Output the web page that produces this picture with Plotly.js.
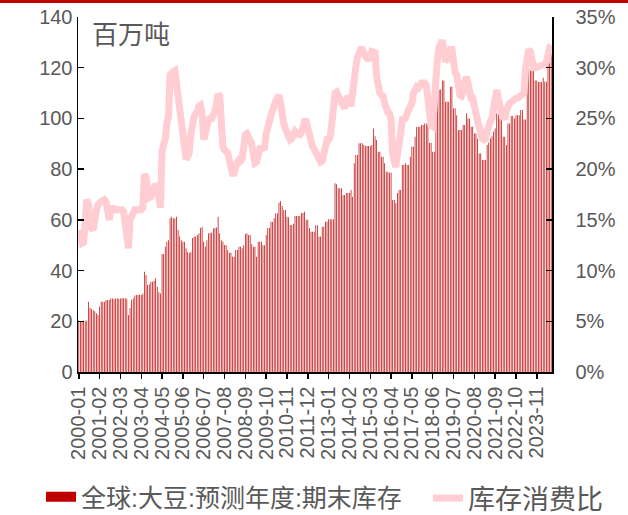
<!DOCTYPE html>
<html><head><meta charset="utf-8">
<script src="https://cdn.plot.ly/plotly-3.0.1.min.js"></script>
<style>html,body{margin:0;padding:0;background:#fff;}#chart{width:628px;height:515px;}</style>
</head><body><div id="chart"></div>
<script>
// ---- data ----
const startYear = 2000;
const monthCount = 296;     // 2000-01 .. 2024-08
const labelStep = 13;       // one axis label every 13 months

// 全球:大豆:预测年度:期末库存 (百万吨), one row per year
const stocksByYear = [
  [20.2,20.1,20.0,20.2,20.0,20.3,27.7,25.2,24.8,24.4,24.0,23.2],
  [22.5,25.8,27.7,27.7,27.7,28.4,28.4,28.4,29.0,29.0,28.7,29.0],
  [29.2,28.8,29.0,29.2,29.0,29.2,28.8,22.5,25.2,28.5,29.0,30.2],
  [30.4,30.4,30.6,30.4,31.0,39.5,38.3,34.3,34.5,35.6,35.6,36.0],
  [37.0,33.6,31.5,31.0,46.5,46.5,49.4,51.4,52.0,60.6,61.2,60.6],
  [60.6,61.2,56.0,53.4,52.0,51.4,51.4,48.8,47.3,46.9,47.3,52.8],
  [53.4,53.4,54.0,54.7,56.8,57.3,51.4,49.4,52.0,54.7,54.7,55.0],
  [56.6,56.8,57.0,61.2,54.7,52.0,51.4,50.1,50.0,48.0,47.0,47.0],
  [45.5,45.5,48.1,48.1,49.4,49.4,48.8,50.0,54.4,54.7,54.0,54.0],
  [50.5,49.4,49.4,45.5,51.4,51.4,51.4,50.0,50.0,54.0,56.8,56.8],
  [59.3,59.3,60.6,62.6,62.6,66.8,67.4,65.5,63.9,63.9,61.2,61.0],
  [58.0,58.0,58.5,61.5,61.5,61.5,61.5,62.7,62.7,63.2,60.0,60.0],
  [56.8,55.3,55.3,55.3,57.9,57.9,53.4,53.4,57.3,57.3,59.3,59.3],
  [60.2,60.2,60.2,60.2,74.4,74.0,72.5,72.5,72.5,69.8,69.8,70.6],
  [70.6,70.6,71.8,69.1,82.3,85.6,85.6,90.2,90.2,90.2,89.5,89.1],
  [89.1,89.1,89.1,89.5,96.0,93.0,91.5,86.9,86.9,84.9,84.9,82.3],
  [79.0,79.0,78.6,78.6,67.8,67.8,66.6,70.6,71.8,71.8,81.6,81.6],
  [82.3,81.6,81.6,84.9,88.8,88.8,92.8,96.7,96.7,96.7,97.4,97.4],
  [98.0,98.0,97.5,90.4,90.4,86.9,86.9,100.0,107.9,111.4,111.4,115.0],
  [115.0,106.6,106.6,106.6,112.5,112.5,104.0,104.0,101.3,95.4,95.4,95.4],
  [97.4,97.4,102.0,100.0,100.0,96.7,96.7,94.1,94.1,92.1,86.2,86.2],
  [83.6,83.6,83.6,89.5,90.5,92.1,93.0,94.8,96.0,102.0,102.0,100.0],
  [100.0,92.8,92.8,89.5,98.0,98.0,101.0,101.0,100.0,101.3,101.3,101.3],
  [103.3,103.3,99.6,99.6,120.0,120.0,119.0,119.0,119.0,115.0,115.0,114.4],
  [114.4,114.4,116.0,114.5,114.5,127.0,127.0,127.5]
];

// 库存消费比 (%), one row per year
const ratioByYear = [
  [14.0,12.8,12.7,12.8,15.5,17.0,16.5,15.0,14.2,14.0,15.5,16.0],
  [16.5,16.8,16.8,16.9,17.0,16.8,15.5,15.0,16.0,16.3,16.0,16.0],
  [16.0,15.9,16.0,16.0,15.8,14.5,12.3,12.2,15.0,15.5,15.8,16.0],
  [16.0,16.0,16.0,16.0,16.2,19.5,19.2,18.0,17.2,17.3,17.8,18.4],
  [18.5,18.3,16.3,16.2,21.8,22.2,23.0,24.5,25.2,29.3,29.6,29.6],
  [29.7,28.5,27.0,25.8,25.5,24.5,23.5,21.0,21.2,21.6,23.5,24.9],
  [25.2,25.5,25.6,26.2,26.3,25.5,22.9,23.5,24.9,24.9,25.0,25.0],
  [25.4,25.7,26.5,27.4,27.2,23.2,22.2,21.9,21.7,21.6,20.9,20.0],
  [19.6,19.6,20.3,20.7,20.9,20.8,21.0,22.5,23.4,23.5,23.2,23.0],
  [22.5,21.5,20.6,20.7,21.9,22.0,22.0,22.0,22.1,23.5,24.3,24.8],
  [25.3,25.8,26.5,26.7,27.0,27.3,26.5,24.9,24.5,24.0,23.5,23.2],
  [22.9,23.0,23.4,23.7,23.5,23.4,23.4,23.6,24.5,24.7,24.7,24.0],
  [23.0,22.5,22.2,22.0,21.7,21.6,21.2,20.7,20.8,21.5,22.9,22.9],
  [22.9,23.2,24.5,26.5,27.5,27.6,27.3,27.0,26.5,26.2,26.0,26.5],
  [27.2,27.0,26.2,27.5,29.5,30.1,31.0,31.8,31.8,31.8,31.5,30.9],
  [30.9,30.9,31.0,31.6,31.6,31.5,29.1,27.8,27.5,27.3,27.2,26.5],
  [25.8,25.6,25.5,24.9,21.5,20.6,20.2,21.5,22.2,23.5,24.9,24.9],
  [25.0,25.5,25.8,26.0,26.5,27.5,28.1,28.1,28.0,28.3,28.5,28.5],
  [28.5,28.3,26.5,24.5,24.3,24.2,27.5,30.4,31.0,32.0,32.7,32.7],
  [31.5,30.6,30.8,31.6,31.8,31.8,30.0,29.5,29.3,28.0,27.3,27.2],
  [27.5,28.5,29.1,28.5,27.5,27.0,27.0,26.5,25.5,24.8,24.0,23.2],
  [23.0,22.9,23.0,23.8,24.5,24.7,25.0,26.0,27.5,27.8,27.0,25.8],
  [25.5,25.2,24.9,25.8,26.3,26.5,26.6,26.8,26.8,27.0,27.0,27.1],
  [27.2,27.2,27.5,30.0,31.5,31.8,31.6,30.5,30.0,30.0,30.0,30.1],
  [30.2,30.2,30.3,30.3,30.6,31.9,31.9,31.8]
];

const barName = '全球:大豆:预测年度:期末库存';
const lineName = '库存消费比';
const unitLabel = '百万吨';

// ---- build ----
const months = [];
for (let i = 0; i < monthCount; i++) {
  const y = startYear + Math.floor(i / 12);
  const m = (i % 12) + 1;
  months.push(y + '-' + (m < 10 ? '0' + m : '' + m));
}
const stocks = stocksByYear.flat();
const ratio = ratioByYear.flat();
const tickVals = months.filter((d, i) => i % labelStep === 0 && i + labelStep / 2 < monthCount);

const FONT = "Arial, 'Liberation Sans', 'Noto Sans CJK SC', sans-serif";
const GREY = '#595959';
const BAR_RED = '#C00000';
const LINE_PINK = '#FFCDD2';

const traces = [
  {type: 'bar', x: months, y: stocks, name: barName, showlegend: false,
   marker: {color: BAR_RED, line: {width: 0}}, yaxis: 'y'},
  // legend key for the bars (wide block like the original legend key)
  {type: 'scatter', mode: 'lines', x: [null], y: [null], name: barName,
   line: {color: BAR_RED, width: 11}, yaxis: 'y', hoverinfo: 'skip', legend: 'legend'},
  {type: 'scatter', mode: 'lines', x: months, y: ratio, name: lineName,
   line: {color: LINE_PINK, width: 7}, yaxis: 'y2', legend: 'legend2'}
];

const W = 474, H = 355;
const legendTop = 1 - 474 / 515;
const layout = {
  width: 628, height: 515,
  margin: {l: 78, r: 76, t: 17, b: 143, pad: 0},
  paper_bgcolor: '#fff', plot_bgcolor: '#fff',
  font: {family: FONT, color: GREY, size: 20},
  bargap: 0.55,
  showlegend: true,
  xaxis: {type: 'category', range: [-0.5, monthCount - 0.5], automargin: false,
    categoryorder: 'array', categoryarray: months,
    tickmode: 'array', tickvals: tickVals, ticktext: tickVals, tickangle: -90,
    ticks: 'outside', ticklen: 5, tickwidth: 1.5, tickcolor: '#000',
    showline: true, linecolor: '#000', linewidth: 1.5, showgrid: false, zeroline: false,
    tickfont: {family: FONT, size: 20, color: GREY}},
  yaxis: {range: [0, 140], dtick: 20, ticks: 'inside', ticklen: 6, tickwidth: 1.5, tickcolor: '#000',
    automargin: false,
    showline: true, linecolor: '#000', linewidth: 1.5, showgrid: false, zeroline: false,
    tickfont: {family: FONT, size: 20, color: GREY}, ticklabelstandoff: 0},
  yaxis2: {overlaying: 'y', side: 'right', range: [0, 35], dtick: 5, ticksuffix: '%',
    automargin: false,
    ticks: 'inside', ticklen: 6, tickwidth: 1.5, tickcolor: '#000',
    showline: true, linecolor: '#000', linewidth: 1.5, showgrid: false, zeroline: false,
    tickfont: {family: FONT, size: 20, color: GREY}, ticklabelstandoff: 18},
  legend: {orientation: 'h', xref: 'container', yref: 'container',
    x: 41 / 628, y: legendTop, xanchor: 'left', yanchor: 'top',
    font: {family: FONT, size: 25, color: GREY}, bgcolor: 'rgba(0,0,0,0)'},
  legend2: {orientation: 'h', xref: 'container', yref: 'container',
    x: 428 / 628, y: legendTop, xanchor: 'left', yanchor: 'top',
    font: {family: FONT, size: 27, color: GREY}, bgcolor: 'rgba(0,0,0,0)'},
  annotations: [{text: unitLabel, xref: 'paper', yref: 'paper', x: 12 / W, y: (372 - 32) / H,
    xanchor: 'left', yanchor: 'middle', showarrow: false,
    font: {family: "'Noto Sans CJK SC', sans-serif", size: 26, color: GREY}}],
  shapes: [{type: 'rect', xref: 'paper', yref: 'paper', x0: -78 / W, x1: 550 / W,
    y0: (372 - 3) / H, y1: 372 / H, fillcolor: BAR_RED, line: {width: 0}, layer: 'above'}]
};

Plotly.newPlot('chart', traces, layout, {staticPlot: true, displayModeBar: false});
</script>
</body></html>
